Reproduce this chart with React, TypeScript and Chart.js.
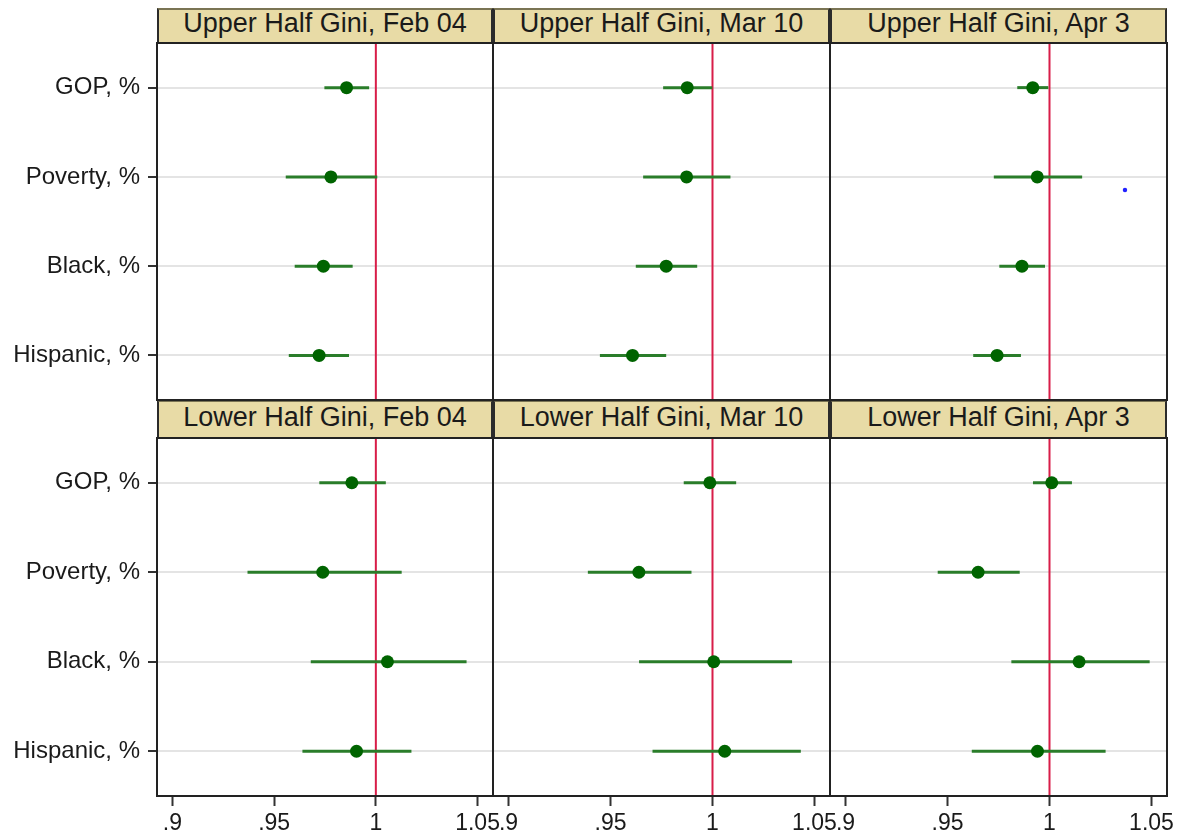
import React, { useEffect, useRef } from 'react';
import { Chart, registerables } from 'chart.js';

Chart.register(...registerables);
Chart.defaults.font.family = "'Liberation Sans', Arial, sans-serif";

// ---------- data ----------
const categories = ['GOP, %', 'Poverty, %', 'Black, %', 'Hispanic, %'];
const xTickValues = [0.9, 0.95, 1, 1.05];
const xTickLabels = ['.9', '.95', '1', '1.05'];
const X_MIN = 0.8924;
const X_MAX = 1.0576;
const referenceValue = 1;

const panelTitles = [
  'Upper Half Gini, Feb 04',
  'Upper Half Gini, Mar 10',
  'Upper Half Gini, Apr 3',
  'Lower Half Gini, Feb 04',
  'Lower Half Gini, Mar 10',
  'Lower Half Gini, Apr 3',
];

// [estimate, lower CI, upper CI] for GOP, Poverty, Black, Hispanic
const upperFeb04 = [
  [0.9856, 0.9747, 0.9967],
  [0.9779, 0.9557, 1.0007],
  [0.9742, 0.9601, 0.9886],
  [0.9721, 0.9572, 0.9868],
];
const upperMar10 = [
  [0.9876, 0.9758, 0.9999],
  [0.9873, 0.966, 1.0088],
  [0.9773, 0.9624, 0.9925],
  [0.9608, 0.9448, 0.9773],
];
const upperApr3 = [
  [0.9918, 0.9842, 0.9994],
  [0.994, 0.9727, 1.016],
  [0.9865, 0.9754, 0.9978],
  [0.9743, 0.9626, 0.986],
];
const lowerFeb04 = [
  [0.9882, 0.9722, 1.0049],
  [0.9739, 0.9369, 1.0127],
  [1.0057, 0.968, 1.0446],
  [0.9905, 0.9639, 1.0175],
];
const lowerMar10 = [
  [0.9987, 0.9859, 1.0116],
  [0.9639, 0.9389, 0.9897],
  [1.0006, 0.964, 1.039],
  [1.006, 0.9706, 1.0433],
];
const lowerApr3 = [
  [1.0011, 0.9919, 1.011],
  [0.965, 0.9452, 0.9854],
  [1.0145, 0.9813, 1.0491],
  [0.9941, 0.9619, 1.0275],
];
const panelValues = [upperFeb04, upperMar10, upperApr3, lowerFeb04, lowerMar10, lowerApr3];

// small stray blue mark in the upper Apr 3 panel
const strayPoint = [{ x: 1.037, y: 1.147 }];

// ---------- layout ----------
const colL = [157, 493, 830];
const colR = [493, 830, 1167];
const rowT = [43, 438];
const rowB = [400, 796];
const headTop = [8, 400];
const M = 12;

const borderPlugin = {
  id: 'panelBorder',
  afterDraw(chart: any) {
    const { ctx, chartArea } = chart;
    ctx.save();
    ctx.strokeStyle = '#222222';
    ctx.lineWidth = 2;
    ctx.strokeRect(chartArea.left, chartArea.top, chartArea.right - chartArea.left, chartArea.bottom - chartArea.top);
    ctx.restore();
  },
};

function Panel({ row, col }: { row: number; col: number }) {
  const ref = useRef<HTMLCanvasElement>(null);
  const left = col === 0 ? 0 : colL[col] - M;
  const right = colR[col] + M;
  const top = rowT[row] - M;
  const bottom = row === 1 ? 832 : rowB[row] + M;
  const w = right - left;
  const h = bottom - top;
  const values = panelValues[row * 3 + col];

  useEffect(() => {
    const datasets: any[] = [];
    datasets.push({
      data: values.map((d, i) => ({ x: d[0], y: i })),
      pointRadius: 6.5,
      pointBackgroundColor: '#006400',
      pointBorderWidth: 0,
      showLine: false,
      order: 1,
    });
    values.forEach((d, i) => {
      datasets.push({
        data: [
          { x: d[1], y: i },
          { x: d[2], y: i },
        ],
        showLine: true,
        borderColor: '#2a7d2a',
        borderWidth: 3,
        pointRadius: 0,
        order: 2,
      });
    });
    datasets.push({
      data: [
        { x: referenceValue, y: -0.5 },
        { x: referenceValue, y: 3.5 },
      ],
      showLine: true,
      borderColor: '#d81d48',
      borderWidth: 2,
      pointRadius: 0,
      order: 3,
    });
    if (row === 0 && col === 2) {
      datasets.push({
        data: strayPoint,
        pointRadius: 2.2,
        pointBackgroundColor: '#2222ff',
        pointBorderWidth: 0,
        showLine: false,
        order: 0,
      });
    }

    const chart = new Chart(ref.current as HTMLCanvasElement, {
      type: 'scatter',
      data: { datasets },
      options: {
        animation: false,
        responsive: false,
        maintainAspectRatio: false,
        devicePixelRatio: 1,
        events: [],
        layout: {
          padding: { left: col === 0 ? 0 : M, right: M, top: M, bottom: row === 1 ? 0 : M },
        },
        plugins: { legend: { display: false }, tooltip: { enabled: false }, title: { display: false } },
        scales: {
          x: {
            type: 'linear',
            min: X_MIN,
            max: X_MAX,
            display: row === 1,
            afterBuildTicks: (s: any) => {
              s.ticks = xTickValues.map((v) => ({ value: v }));
            },
            afterFit: (s: any) => {
              s.height = row === 1 ? 832 - rowB[1] : 0;
              s.paddingLeft = 0;
              s.paddingRight = 0;
            },
            ticks: {
              callback: (v: any) => xTickLabels[xTickValues.indexOf(v)],
              color: '#1a1a1a',
              font: { size: 23 },
              padding: 4,
              maxRotation: 0,
              autoSkip: false,
            },
            grid: {
              drawOnChartArea: false,
              drawTicks: true,
              tickLength: 10,
              tickColor: '#333333',
              tickWidth: 2,
            },
            border: { display: false },
          },
          y: {
            type: 'linear',
            reverse: true,
            min: -0.5,
            max: 3.5,
            afterBuildTicks: (s: any) => {
              s.ticks = categories.map((_, i) => ({ value: i }));
            },
            afterFit: (s: any) => {
              s.width = col === 0 ? colL[0] : 0;
              s.paddingTop = 0;
              s.paddingBottom = 0;
            },
            ticks: {
              display: col === 0,
              callback: (v: any) => categories[v],
              color: '#1a1a1a',
              font: { size: 24 },
              padding: 8,
              autoSkip: false,
            },
            grid: {
              color: '#e4e4e4',
              lineWidth: 2,
              drawTicks: col === 0,
              tickLength: 9,
              tickColor: '#333333',
              tickWidth: 2,
            },
            border: { display: false },
          },
        },
      } as any,
      plugins: [borderPlugin],
    });
    return () => chart.destroy();
  }, []);

  return (
    <canvas
      ref={ref}
      width={w}
      height={h}
      style={{ position: 'absolute', left, top, width: w, height: h }}
    />
  );
}

function Header({ row, col }: { row: number; col: number }) {
  const left = colL[col];
  const width = colR[col] - colL[col];
  const top = headTop[row];
  const height = rowT[row] - headTop[row];
  return (
    <>
      <div
        style={{
          position: 'absolute',
          left,
          top,
          width,
          height,
          boxSizing: 'border-box',
          background: '#e8dba6',
          borderTop: '2px solid #7a7454',
          borderLeft: '2px solid #2b2b2b',
          borderRight: '2px solid #2b2b2b',
        }}
      />
      <div
        style={{
          position: 'absolute',
          left,
          top: row === 0 ? top + 2 : top + 3.5,
          width,
          height: 27,
          lineHeight: '27px',
          textAlign: 'center',
          fontFamily: "'Liberation Sans', Arial, sans-serif",
          fontSize: 27,
          color: '#1a1a1a',
          whiteSpace: 'nowrap',
        }}
      >
        {panelTitles[row * 3 + col]}
      </div>
    </>
  );
}

export default function App() {
  const cells = [0, 1].flatMap((r) => [0, 1, 2].map((c) => ({ r, c })));
  return (
    <div
      style={{
        position: 'absolute',
        left: 0,
        top: 0,
        width: 1178,
        height: 832,
        overflow: 'hidden',
        background: '#ffffff',
      }}
    >
      {cells.map(({ r, c }) => (
        <Header key={`h${r}${c}`} row={r} col={c} />
      ))}
      {cells.map(({ r, c }) => (
        <Panel key={`p${r}${c}`} row={r} col={c} />
      ))}
    </div>
  );
}
